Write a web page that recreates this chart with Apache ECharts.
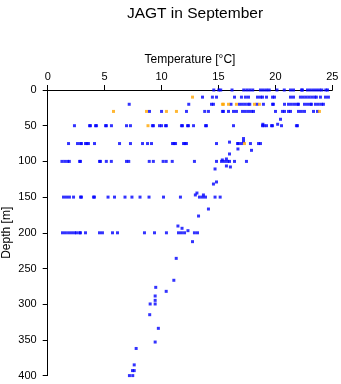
<!DOCTYPE html>
<html>
<head>
<meta charset="utf-8">
<script src="https://cdn.jsdelivr.net/npm/echarts@6/dist/echarts.min.js"></script>
<style>
  html, body { margin: 0; padding: 0; background: #fff; }
  #chart { width: 341px; height: 384px; }
</style>
</head>
<body>
<div id="chart"></div>
<script>
// Temperature readings (°C) at the standard sampling depths
const blueT_0   = [14.59, 15.03, 15.2, 16.19, 17.22, 17.49, 17.75, 18.01, 18.69, 18.95, 19.22, 19.46, 20.14, 20.78, 21.33, 21.59, 22.29, 22.38, 22.82, 23.08, 23.35, 23.61, 23.87, 24.08, 24.43, 24.58];
const blueT_10  = [13.6, 14.47, 14.83, 16.41, 17.02, 17.37, 17.64, 18.43, 18.69, 18.87, 19.22, 19.75, 19.92, 21.33, 21.59, 22.2, 22.45, 22.7, 22.95, 23.2, 23.45, 23.6, 23.96, 24.4, 24.66];
const blueT_20  = [7.16, 12.39, 14.39, 14.56, 16.1, 16.85, 17.1, 17.35, 17.6, 17.75, 18.38, 18.95, 19.75, 19.83, 20.8, 21.15, 21.41, 21.68, 21.94, 22.03, 22.56, 22.82, 23.08, 23.17, 23.52, 23.78, 24.05, 24.22];
const blueT_30  = [8.94, 10.0, 12.19, 13.79, 14.12, 15.35, 15.44, 15.88, 16.32, 16.58, 17.11, 17.37, 17.64, 17.9, 18.08, 20.01, 20.62, 20.8, 21.15, 21.33, 22.03, 22.29, 22.56, 23.35, 23.7];
const blueT_50  = [2.35, 3.67, 3.76, 4.2, 4.29, 5.08, 5.16, 5.6, 6.92, 7.27, 9.2, 9.29, 9.82, 10.0, 10.35, 10.43, 11.75, 11.84, 12.28, 12.37, 12.81, 13.86, 13.95, 16.32, 18.87, 19.0, 19.22, 19.66, 19.75, 20.54, 21.85, 21.94];
const blueT_75  = [1.83, 2.62, 2.88, 2.97, 3.32, 3.45, 3.58, 4.11, 6.31, 7.27, 8.33, 8.77, 9.12, 10.96, 11.1, 11.23, 11.93, 12.06, 12.19, 14.83, 16.67, 16.76, 17.02, 17.81, 18.52, 18.69];
const blueT_100 = [1.25, 1.5, 1.75, 1.9, 2.8, 2.88, 4.55, 4.64, 5.15, 5.59, 6.92, 7.12, 8.92, 9.28, 10.14, 10.41, 10.94, 12.89, 14.83, 15.27, 15.53, 15.79, 15.97, 16.41, 17.46];
const blueT_150 = [1.39, 1.65, 1.91, 2.27, 2.88, 2.97, 4.02, 4.11, 5.3, 5.87, 6.79, 7.4, 8.11, 8.9, 10.17, 11.66, 13.33, 13.6, 13.86, 14.7, 15.15];
const blueT_200 = [1.3, 1.56, 1.83, 2.09, 2.35, 2.53, 2.8, 2.88, 3.32, 4.55, 4.81, 5.69, 6.13, 8.5, 9.38, 10.43, 11.49, 11.75, 12.02, 12.89, 13.16];

// Profile casts sampled between / below the standard depths
const profileT = [20.45, 18.9, 20.2, 17.2, 17.2, 15.97, 16.71, 17.9, 15.97, 15.7, 15.34, 15.7, 16.05, 14.7, 14.83, 14.56, 13.11, 12.97, 13.68, 14.12, 13.25, 11.44, 11.8, 12.32, 12.72, 11.29, 11.08, 9.49, 10.41, 9.44, 9.44, 9.44, 9.0, 8.96, 9.72, 9.44, 7.77, 7.6, 7.45, 7.6, 7.18, 7.47];
const profileD = [41, 48, 48, 68, 72, 73, 82.6, 84.5, 89.6, 96.6, 98, 106.4, 107.8, 110.6, 128.8, 131.7, 144.3, 147, 147, 166.7, 176.5, 190.5, 193.7, 197, 212.4, 235.8, 266.5, 276.4, 282, 288.5, 294.6, 299.7, 299.7, 314.7, 333.8, 353, 362, 385, 393, 393, 400, 400];

// Second instrument (orange)
const orangeT_10 = [12.72];
const orangeT_20 = [15.35, 15.44, 15.88, 16.58, 18.16, 18.6];
const orangeT_30 = [5.78, 8.68, 10.43, 11.31, 23.87];
const orangeT_50 = [8.81];
const orangeT_75 = [17.29];

const tempTicks = [0, 5, 10, 15, 20, 25];
const depthTicks = [0, 50, 100, 150, 200, 250, 300, 350, 400];

function atDepth(temps, depth) {
  return temps.map(t => [t, depth]);
}

const blueData = [].concat(
  atDepth(blueT_0, 0), atDepth(blueT_10, 10), atDepth(blueT_20, 20),
  atDepth(blueT_30, 30), atDepth(blueT_50, 50), atDepth(blueT_75, 75),
  atDepth(blueT_100, 100), atDepth(blueT_150, 150), atDepth(blueT_200, 200),
  profileT.map((t, i) => [t, profileD[i]])
);
const orangeData = [].concat(
  atDepth(orangeT_10, 10), atDepth(orangeT_20, 20), atDepth(orangeT_30, 30),
  atDepth(orangeT_50, 50), atDepth(orangeT_75, 75)
);

const FONT = '"Liberation Sans", Arial, Helvetica, sans-serif';
const chart = echarts.init(document.getElementById('chart'), null, { renderer: 'canvas' });

chart.setOption({
  animation: false,
  backgroundColor: '#ffffff',
  title: {
    text: 'JAGT in September',
    left: 190,
    textAlign: 'center',
    top: 1,
    textStyle: { fontFamily: FONT, fontSize: 15.5, fontWeight: 'normal', color: '#000' }
  },
  grid: {
    left: 47.7, top: 90, width: 284.6, height: 285.6,
    containLabel: false,
    outerBoundsMode: 'none'
  },
  xAxis: {
    type: 'value',
    position: 'top',
    min: tempTicks[0],
    max: tempTicks[tempTicks.length - 1],
    interval: 5,
    name: 'Temperature [°C]',
    nameLocation: 'middle',
    nameGap: 24,
    nameMoveOverlap: false,
    nameTextStyle: { fontFamily: FONT, fontSize: 12, color: '#000' },
    axisLine: { show: true, onZero: false, lineStyle: { color: '#000', width: 1 } },
    axisTick: { show: true, length: 5, lineStyle: { color: '#000', width: 1 } },
    axisLabel: { fontFamily: FONT, fontSize: 11, color: '#000', margin: 8 },
    splitLine: { show: false }
  },
  yAxis: {
    type: 'value',
    inverse: true,
    min: depthTicks[0],
    max: depthTicks[depthTicks.length - 1],
    interval: 50,
    name: 'Depth [m]',
    nameLocation: 'middle',
    nameRotate: 90,
    nameGap: 35,
    nameMoveOverlap: false,
    nameTextStyle: { fontFamily: FONT, fontSize: 12, color: '#000' },
    axisLine: { show: true, onZero: false, lineStyle: { color: '#000', width: 1 } },
    axisTick: { show: true, length: 5, lineStyle: { color: '#000', width: 1 } },
    axisLabel: { fontFamily: FONT, fontSize: 11, color: '#000', margin: 11 },
    splitLine: { show: false }
  },
  series: [
    {
      type: 'scatter',
      data: blueData,
      symbol: 'rect',
      symbolSize: 3,
      clip: false,
      itemStyle: { color: '#0000ff' }
    },
    {
      type: 'scatter',
      data: orangeData,
      symbol: 'rect',
      symbolSize: 3,
      clip: false,
      itemStyle: { color: '#ffa500' }
    }
  ]
});
</script>
</body>
</html>
